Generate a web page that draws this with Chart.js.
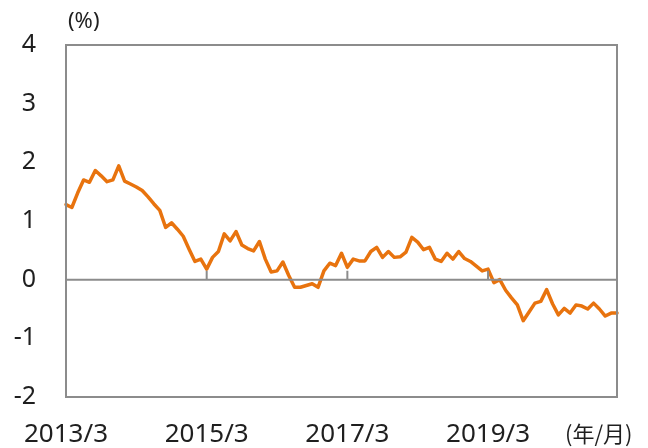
<!DOCTYPE html>
<html>
<head>
<meta charset="utf-8">
<script src="https://cdn.jsdelivr.net/npm/chart.js@4/dist/chart.umd.min.js"></script>
<style>
	body { margin: 0; background: #fff; }
	canvas { display: block; }
</style>
</head>
<body>
<canvas id="chart" width="648" height="448"></canvas>
<script>
// Data

const START_YEAR = 2013
const START_MONTH = 3
const MONTH_COUNT = 95

const TICK_LABELS = ['2013/3', '2015/3', '2017/3', '2019/3']
const Y_TICKS = [-2, -1, 0, 1, 2, 3, 4]

const VALUES = [
	1.28, 1.23, 1.48, 1.70, 1.66, 1.86, 1.77, 1.67, 1.70, 1.94,
	1.68, 1.63, 1.58, 1.52, 1.41, 1.29, 1.18, 0.89, 0.97, 0.86,
	0.74, 0.52, 0.31, 0.35, 0.18, 0.38, 0.48, 0.78, 0.66, 0.82,
	0.59, 0.53, 0.49, 0.65, 0.35, 0.13, 0.15, 0.30, 0.07, -0.13,
	-0.13, -0.10, -0.07, -0.13, 0.15, 0.28, 0.24, 0.45, 0.21, 0.35,
	0.32, 0.32, 0.48, 0.55, 0.38, 0.48, 0.38, 0.39, 0.47, 0.72,
	0.64, 0.51, 0.55, 0.35, 0.31, 0.45, 0.35, 0.48, 0.36, 0.31,
	0.23, 0.15, 0.18, -0.05, 0.00, -0.18, -0.31, -0.43, -0.70, -0.55,
	-0.40, -0.37, -0.17, -0.41, -0.60, -0.49, -0.57, -0.43, -0.45, -0.50,
	-0.40, -0.50, -0.62, -0.57, -0.57
]

const months = []
for (let i = 0; i < MONTH_COUNT; i++) {
	const m = START_MONTH - 1 + i
	months.push((START_YEAR + Math.floor(m / 12)) + '/' + (m % 12 + 1))
}

// Style

const FONT = "'Noto Sans', 'Noto Sans CJK JP', sans-serif"
const TEXT_COLOR = '#1f1f1f'
const AXIS_COLOR = '#8c8c8c'
const LINE_COLOR = '#e8730e'

// Frame, zero line, tick marks and unit labels

const frame = {
	id: 'frame',
	afterDatasetsDraw(chart) {
		const ctx = chart.ctx
		const area = chart.chartArea
		const x = chart.scales.x
		const y = chart.scales.y
		const y0 = y.getPixelForValue(0)

		ctx.save()
		ctx.strokeStyle = AXIS_COLOR
		ctx.lineWidth = 2
		ctx.strokeRect(area.left, area.top, area.right - area.left, area.bottom - area.top)

		ctx.beginPath()
		ctx.moveTo(area.left, y0)
		ctx.lineTo(area.right, y0)
		months.forEach(function(label, i) {
			if (i > 0 && TICK_LABELS.includes(label)) {
				const px = x.getPixelForValue(i)
				ctx.moveTo(px, y0)
				ctx.lineTo(px, y0 - 9)
			}
		})
		ctx.stroke()

		ctx.fillStyle = TEXT_COLOR
		ctx.font = '22px ' + FONT
		ctx.textBaseline = 'middle'
		ctx.textAlign = 'left'
		ctx.fillText('(%)', area.left + 2, 22)
		ctx.font = "22px 'Noto Sans CJK JP', sans-serif"
		ctx.fillText('(年/月)', 565, 434)
		ctx.restore()
	}
}

// Chart

new Chart('chart', {
	type: 'line',
	data: {
		labels: months,
		datasets: [{
			data: VALUES,
			borderColor: LINE_COLOR,
			borderWidth: 3.5,
			borderJoinStyle: 'round',
			borderCapStyle: 'round',
			pointRadius: 0,
			tension: 0,
			clip: false
		}]
	},
	options: {
		responsive: false,
		animation: false,
		devicePixelRatio: 1,
		layout: { padding: { top: 45, right: 31, left: 0, bottom: 0 } },
		plugins: {
			legend: { display: false },
			tooltip: { enabled: false }
		},
		scales: {
			x: {
				type: 'category',
				offset: false,
				grid: { display: false, drawTicks: false },
				border: { display: false },
				afterFit(scale) { scale.height = 51 },
				ticks: {
					autoSkip: false,
					maxRotation: 0,
					padding: 22,
					color: TEXT_COLOR,
					font: { family: FONT, size: 26 },
					callback(value, i) {
						const label = months[i]
						return TICK_LABELS.includes(label) ? label : null
					}
				}
			},
			y: {
				min: Y_TICKS[0],
				max: Y_TICKS[Y_TICKS.length - 1],
				grid: { display: false, drawTicks: false },
				border: { display: false },
				afterFit(scale) { scale.width = 66 },
				afterBuildTicks(scale) {
					scale.ticks = Y_TICKS.map(v => ({ value: v }))
				},
				ticks: {
					padding: 30,
					color: TEXT_COLOR,
					font: { family: FONT, size: 25 }
				}
			}
		}
	},
	plugins: [frame]
})
</script>
</body>
</html>
